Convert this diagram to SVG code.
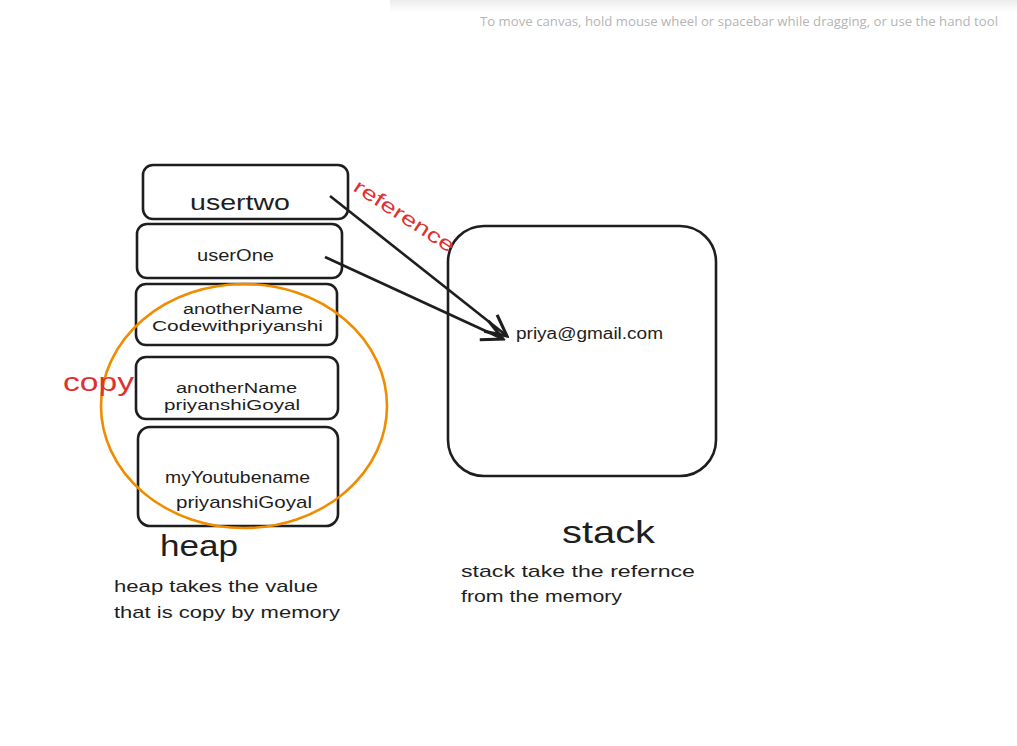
<svg xmlns="http://www.w3.org/2000/svg" width="1017" height="746" viewBox="0 0 1017 746">
<defs>
<style>
.box{fill:none;stroke:#1e1e1e;stroke-width:2.6}
.t{font-family:"Liberation Sans",Arial,sans-serif;fill:#1e1e1e}
.red{font-family:"Liberation Sans",Arial,sans-serif;fill:#e03131}
.conn{stroke:#1e1e1e;stroke-width:2.6;fill:none}
</style>
<linearGradient id="topg" x1="0" y1="0" x2="0" y2="1">
<stop offset="0" stop-color="#ececec"/>
<stop offset="1" stop-color="#ffffff"/>
</linearGradient>
<marker id="ah" viewBox="0 0 20 20" refX="18" refY="10" markerWidth="26" markerHeight="26" markerUnits="userSpaceOnUse" orient="auto">
<path d="M2,2 L18,10 L2,18" fill="none" stroke="#1e1e1e" stroke-width="2.4"/>
</marker>
</defs>
<rect width="1017" height="746" fill="#ffffff"/>
<rect x="390" y="0" width="627" height="12" fill="url(#topg)"/>
<text x="998" y="26" text-anchor="end" font-family="'Open Sans','Liberation Sans',sans-serif" font-size="13" fill="#b5b5b5" textLength="518" lengthAdjust="spacingAndGlyphs">To move canvas, hold mouse wheel or spacebar while dragging, or use the hand tool</text>

<g id="connectors">
<path class="conn" d="M330,196 L507,336" marker-end="url(#ah)"/>
<path class="conn" d="M325,257 L503,339" marker-end="url(#ah)"/>
</g>

<g id="usertwo">
<rect class="box" x="143" y="165" width="205" height="54" rx="10"/>
<text class="t" x="190" y="210" font-size="22" textLength="100" lengthAdjust="spacingAndGlyphs">usertwo</text>
</g>
<g id="userOne">
<rect class="box" x="137" y="224" width="205" height="54" rx="10"/>
<text class="t" x="197" y="261" font-size="16" textLength="77" lengthAdjust="spacingAndGlyphs">userOne</text>
</g>
<g id="codewithpriyanshi">
<rect class="box" x="136" y="284" width="201" height="61" rx="10"/>
<text class="t" x="183" y="314" font-size="14" textLength="120" lengthAdjust="spacingAndGlyphs">anotherName</text>
<text class="t" x="152" y="331" font-size="14" textLength="171" lengthAdjust="spacingAndGlyphs">Codewithpriyanshi</text>
</g>
<g id="priyanshiGoyal1">
<rect class="box" x="136" y="357" width="202" height="62" rx="10"/>
<text class="t" x="176" y="393" font-size="14" textLength="121" lengthAdjust="spacingAndGlyphs">anotherName</text>
<text class="t" x="164" y="410" font-size="14" textLength="136" lengthAdjust="spacingAndGlyphs">priyanshiGoyal</text>
</g>
<g id="myYoutubename">
<rect class="box" x="138" y="427" width="200" height="99" rx="12"/>
<text class="t" x="165" y="483" font-size="17" textLength="145" lengthAdjust="spacingAndGlyphs">myYoutubename</text>
<text class="t" x="176" y="508" font-size="17" textLength="136" lengthAdjust="spacingAndGlyphs">priyanshiGoyal</text>
</g>
<g id="copy-circle">
<ellipse cx="244" cy="406" rx="143" ry="122" fill="none" stroke="#f08c00" stroke-width="2.6"/>
</g>
<g id="stack-box">
<rect class="box" x="448" y="226" width="268" height="250" rx="36"/>
<text class="t" x="516" y="339" font-size="16" textLength="147" lengthAdjust="spacingAndGlyphs">priya@gmail.com</text>
</g>
<g id="labels">
<text class="red" x="352" y="190" font-size="20" transform="rotate(33 352 190)" textLength="116" lengthAdjust="spacingAndGlyphs">reference</text>
<text class="red" x="63" y="391" font-size="26" textLength="71" lengthAdjust="spacingAndGlyphs">copy</text>
<text class="t" x="160" y="556" font-size="30" textLength="78" lengthAdjust="spacingAndGlyphs">heap</text>
<text class="t" x="562" y="543" font-size="32" textLength="93" lengthAdjust="spacingAndGlyphs">stack</text>
<text class="t" x="114" y="592" font-size="17" textLength="204" lengthAdjust="spacingAndGlyphs">heap takes the value</text>
<text class="t" x="114" y="618" font-size="17" textLength="226" lengthAdjust="spacingAndGlyphs">that is copy by memory</text>
<text class="t" x="461" y="577" font-size="17" textLength="234" lengthAdjust="spacingAndGlyphs">stack take the refernce</text>
<text class="t" x="461" y="602" font-size="17" textLength="161" lengthAdjust="spacingAndGlyphs">from the memory</text>
</g>
</svg>
